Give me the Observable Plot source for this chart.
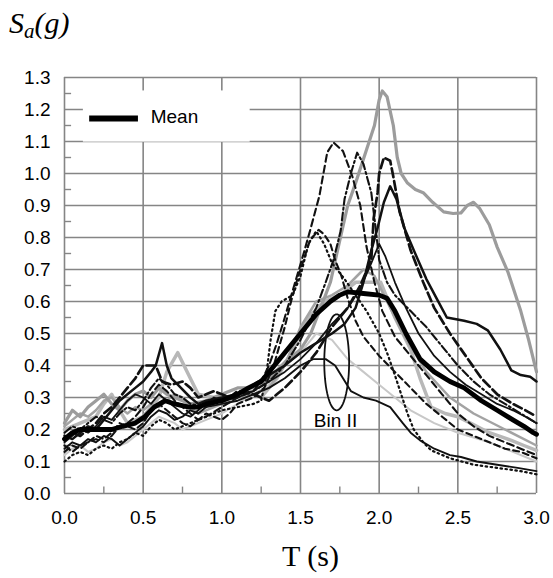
<!DOCTYPE html>
<html>
<head>
<meta charset="utf-8">
<script src="https://cdn.jsdelivr.net/npm/d3@7"></script>
<script src="https://cdn.jsdelivr.net/npm/@observablehq/plot@0.6"></script>
<style>
  html, body { margin: 0; padding: 0; background: #fff; }
  #wrap { position: relative; width: 553px; height: 578px; }
  #ylab { position: absolute; left: 9px; top: 8px; font: italic 30px "Liberation Serif", "Times New Roman", serif; line-height: 30px; white-space: nowrap; }
  #ylab sub { font-size: 21px; vertical-align: -5px; line-height: 0; }
  #xlab { position: absolute; left: 282px; top: 541px; font: 30px "Liberation Serif", "Times New Roman", serif; line-height: 30px; white-space: nowrap; }
  #chart { position: absolute; left: 0; top: 0; }
</style>
</head>
<body>
<div id="wrap">
  <div id="chart"></div>
  <div id="ylab">S<sub>a</sub>(g)</div>
  <div id="xlab">T (s)</div>
</div>
<script>
// ---- tick values ----
const xTicks = [0, 0.5, 1.0, 1.5, 2.0, 2.5, 3.0];
const yTicks = [0, 0.1, 0.2, 0.3, 0.4, 0.5, 0.6, 0.7, 0.8, 0.9, 1.0, 1.1, 1.2, 1.3];
const xMinorTicks = [0.25, 0.75, 1.25, 1.75, 2.25, 2.75];
const yMinorTicks = [0.05, 0.15, 0.25, 0.35, 0.45, 0.55, 0.65, 0.75, 0.85, 0.95, 1.05, 1.15, 1.25];

// ---- record spectra [T (s), Sa (g)] ----
const recA = [[0,0.22],[0.05,0.26],[0.1,0.24],[0.15,0.27],[0.2,0.29],[0.25,0.31],[0.3,0.28],[0.35,0.26],[0.4,0.29],[0.45,0.31],[0.5,0.32],[0.55,0.30],[0.6,0.33],[0.65,0.31],[0.7,0.30],[0.75,0.29],[0.8,0.28],[0.9,0.29],[1.0,0.31],[1.1,0.33],[1.2,0.33],[1.3,0.36],[1.4,0.41],[1.5,0.45],[1.565,0.50],[1.62,0.57],[1.69,0.66],[1.74,0.77],[1.8,0.90],[1.85,0.97],[1.92,1.075],[1.97,1.15],[2.0,1.23],[2.02,1.258],[2.05,1.24],[2.09,1.15],[2.115,1.05],[2.14,1.0],[2.18,0.97],[2.23,0.95],[2.28,0.94],[2.34,0.91],[2.41,0.88],[2.47,0.875],[2.52,0.877],[2.56,0.90],[2.6,0.91],[2.64,0.89],[2.7,0.84],[2.75,0.77],[2.82,0.69],[2.9,0.57],[2.95,0.48],[3.0,0.38]];
const recB = [[0,0.15],[0.05,0.13],[0.1,0.15],[0.15,0.16],[0.2,0.17],[0.25,0.16],[0.3,0.18],[0.35,0.21],[0.4,0.22],[0.45,0.24],[0.5,0.27],[0.55,0.31],[0.6,0.34],[0.65,0.32],[0.7,0.29],[0.75,0.27],[0.8,0.25],[0.85,0.23],[0.9,0.24],[1.0,0.27],[1.1,0.30],[1.2,0.32],[1.25,0.35],[1.3,0.40],[1.35,0.47],[1.4,0.55],[1.46,0.65],[1.52,0.75],[1.56,0.82],[1.62,0.93],[1.67,1.066],[1.71,1.097],[1.77,1.07],[1.83,0.99],[1.88,0.90],[1.92,0.77],[1.97,0.66],[2.02,0.57],[2.1,0.49],[2.2,0.43],[2.3,0.37],[2.4,0.31],[2.5,0.25],[2.6,0.21],[2.7,0.18],[2.8,0.16],[2.9,0.14],[3.0,0.12]];
const recC = [[0,0.19],[0.05,0.21],[0.1,0.20],[0.15,0.22],[0.2,0.24],[0.25,0.23],[0.3,0.22],[0.35,0.25],[0.4,0.27],[0.45,0.26],[0.5,0.29],[0.55,0.33],[0.6,0.36],[0.65,0.34],[0.7,0.31],[0.75,0.30],[0.8,0.28],[0.9,0.27],[1.0,0.29],[1.1,0.31],[1.2,0.32],[1.3,0.35],[1.4,0.40],[1.5,0.48],[1.6,0.58],[1.66,0.66],[1.71,0.73],[1.755,0.82],[1.78,0.92],[1.82,1.00],[1.86,1.065],[1.9,1.03],[1.95,0.94],[1.98,0.82],[2.0,0.73],[2.05,0.66],[2.1,0.62],[2.2,0.57],[2.3,0.52],[2.4,0.46],[2.5,0.40],[2.6,0.35],[2.7,0.31],[2.8,0.28],[2.9,0.25],[3.0,0.22]];
const recD = [[0,0.17],[0.05,0.19],[0.1,0.18],[0.15,0.20],[0.2,0.22],[0.25,0.25],[0.3,0.27],[0.35,0.30],[0.4,0.33],[0.45,0.36],[0.5,0.40],[0.55,0.40],[0.58,0.40],[0.62,0.35],[0.68,0.34],[0.75,0.35],[0.8,0.33],[0.85,0.30],[0.9,0.31],[0.95,0.32],[1.0,0.31],[1.05,0.30],[1.1,0.32],[1.2,0.31],[1.3,0.29],[1.35,0.31],[1.4,0.33],[1.5,0.38],[1.6,0.44],[1.7,0.52],[1.8,0.58],[1.88,0.65],[1.95,0.73],[1.965,0.86],[1.99,0.94],[2.0,1.0],[2.03,1.05],[2.07,1.04],[2.09,0.99],[2.13,0.88],[2.2,0.76],[2.28,0.66],[2.35,0.58],[2.45,0.50],[2.55,0.43],[2.65,0.36],[2.75,0.31],[2.85,0.28],[2.93,0.26],[3.0,0.24]];
const recE = [[0,0.18],[0.05,0.17],[0.1,0.19],[0.15,0.21],[0.2,0.20],[0.25,0.23],[0.3,0.26],[0.35,0.29],[0.4,0.31],[0.45,0.33],[0.5,0.35],[0.55,0.38],[0.58,0.40],[0.62,0.47],[0.65,0.40],[0.68,0.36],[0.72,0.34],[0.8,0.30],[0.85,0.28],[0.9,0.29],[1.0,0.30],[1.1,0.31],[1.2,0.34],[1.3,0.37],[1.4,0.40],[1.5,0.44],[1.6,0.47],[1.7,0.50],[1.78,0.53],[1.85,0.58],[1.9,0.66],[1.95,0.76],[1.99,0.83],[2.03,0.91],[2.07,0.96],[2.11,0.92],[2.16,0.83],[2.22,0.76],[2.3,0.67],[2.37,0.605],[2.43,0.55],[2.54,0.54],[2.62,0.53],[2.69,0.51],[2.77,0.45],[2.84,0.385],[2.9,0.37],[2.96,0.365],[3.0,0.35]];
const recF = [[0,0.13],[0.05,0.15],[0.1,0.14],[0.15,0.16],[0.2,0.18],[0.25,0.17],[0.3,0.19],[0.35,0.22],[0.4,0.21],[0.45,0.20],[0.5,0.22],[0.55,0.26],[0.6,0.28],[0.65,0.26],[0.7,0.24],[0.75,0.22],[0.8,0.21],[0.85,0.23],[0.9,0.25],[0.95,0.24],[1.0,0.23],[1.05,0.25],[1.1,0.28],[1.2,0.30],[1.27,0.33],[1.33,0.40],[1.4,0.52],[1.44,0.60],[1.48,0.67],[1.52,0.73],[1.56,0.79],[1.615,0.824],[1.65,0.81],[1.69,0.78],[1.72,0.73],[1.76,0.68],[1.8,0.61],[1.85,0.54],[1.9,0.49],[2.0,0.43],[2.1,0.38],[2.2,0.33],[2.3,0.28],[2.4,0.24],[2.5,0.20],[2.6,0.18],[2.7,0.16],[2.8,0.14],[2.9,0.13],[3.0,0.11]];
const recG = [[0,0.10],[0.05,0.12],[0.1,0.13],[0.15,0.12],[0.2,0.14],[0.25,0.15],[0.3,0.14],[0.35,0.16],[0.4,0.17],[0.45,0.19],[0.5,0.18],[0.55,0.21],[0.6,0.23],[0.65,0.22],[0.7,0.20],[0.75,0.21],[0.8,0.22],[0.9,0.24],[1.0,0.26],[1.1,0.27],[1.2,0.28],[1.25,0.29],[1.28,0.36],[1.31,0.48],[1.34,0.57],[1.38,0.60],[1.45,0.62],[1.5,0.68],[1.55,0.78],[1.6,0.82],[1.65,0.78],[1.7,0.72],[1.78,0.67],[1.85,0.62],[1.92,0.57],[2.0,0.50],[2.05,0.44],[2.1,0.37],[2.14,0.31],[2.18,0.25],[2.22,0.20],[2.28,0.16],[2.33,0.135],[2.45,0.11],[2.6,0.09],[2.75,0.08],[2.9,0.07],[3.0,0.06]];
const recH = [[0,0.14],[0.05,0.16],[0.1,0.15],[0.15,0.17],[0.2,0.16],[0.25,0.18],[0.3,0.17],[0.35,0.15],[0.4,0.17],[0.45,0.19],[0.5,0.21],[0.55,0.24],[0.6,0.26],[0.65,0.25],[0.7,0.23],[0.75,0.24],[0.8,0.26],[0.85,0.25],[0.9,0.27],[1.0,0.28],[1.1,0.29],[1.2,0.31],[1.3,0.33],[1.4,0.36],[1.5,0.40],[1.58,0.42],[1.66,0.42],[1.72,0.40],[1.77,0.36],[1.82,0.32],[1.9,0.30],[1.98,0.29],[2.07,0.27],[2.15,0.22],[2.2,0.19],[2.26,0.166],[2.35,0.14],[2.45,0.12],[2.52,0.114],[2.62,0.10],[2.75,0.09],[2.88,0.08],[3.0,0.07]];
const recI = [[0,0.20],[0.05,0.21],[0.1,0.22],[0.15,0.23],[0.2,0.24],[0.25,0.28],[0.3,0.31],[0.35,0.26],[0.4,0.22],[0.45,0.23],[0.5,0.24],[0.55,0.27],[0.6,0.30],[0.65,0.38],[0.72,0.44],[0.78,0.38],[0.85,0.31],[0.95,0.30],[1.05,0.30],[1.15,0.32],[1.25,0.30],[1.35,0.36],[1.45,0.45],[1.55,0.55],[1.65,0.60],[1.75,0.62],[1.85,0.66],[1.95,0.66],[2.01,0.66],[2.1,0.55],[2.2,0.45],[2.26,0.36],[2.33,0.27],[2.42,0.25],[2.5,0.24],[2.58,0.22],[2.7,0.19],[2.84,0.166],[2.92,0.15],[3.0,0.135]];
const recJ = [[0,0.12],[0.05,0.14],[0.1,0.15],[0.15,0.13],[0.2,0.14],[0.25,0.16],[0.3,0.17],[0.35,0.15],[0.4,0.16],[0.45,0.18],[0.5,0.20],[0.55,0.22],[0.6,0.24],[0.65,0.23],[0.7,0.22],[0.75,0.20],[0.8,0.21],[0.9,0.23],[1.0,0.25],[1.1,0.28],[1.2,0.31],[1.3,0.34],[1.4,0.40],[1.5,0.44],[1.6,0.50],[1.7,0.48],[1.8,0.42],[1.9,0.38],[2.0,0.34],[2.1,0.30],[2.2,0.26],[2.35,0.22],[2.5,0.19],[2.7,0.16],[2.85,0.13],[3.0,0.10]];
const recK = [[0,0.16],[0.05,0.18],[0.1,0.20],[0.15,0.19],[0.2,0.21],[0.25,0.24],[0.3,0.23],[0.35,0.26],[0.4,0.29],[0.45,0.31],[0.5,0.30],[0.55,0.28],[0.6,0.31],[0.65,0.29],[0.7,0.27],[0.75,0.25],[0.8,0.24],[0.85,0.26],[0.9,0.28],[0.95,0.30],[1.0,0.29],[1.1,0.30],[1.2,0.32],[1.3,0.35],[1.4,0.38],[1.5,0.42],[1.6,0.47],[1.7,0.53],[1.8,0.58],[1.88,0.64],[1.95,0.72],[2.0,0.78],[2.04,0.74],[2.1,0.66],[2.17,0.58],[2.25,0.50],[2.35,0.43],[2.45,0.38],[2.55,0.34],[2.65,0.31],[2.75,0.28],[2.85,0.26],[2.93,0.24],[3.0,0.22]];
const recL = [[0,0.21],[0.05,0.23],[0.1,0.25],[0.15,0.24],[0.2,0.26],[0.25,0.29],[0.3,0.30],[0.35,0.27],[0.4,0.25],[0.45,0.27],[0.5,0.26],[0.55,0.28],[0.6,0.27],[0.65,0.29],[0.7,0.31],[0.75,0.30],[0.8,0.27],[0.85,0.25],[0.9,0.26],[1.0,0.28],[1.1,0.30],[1.2,0.31],[1.3,0.33],[1.4,0.40],[1.5,0.52],[1.6,0.60],[1.7,0.62],[1.8,0.65],[1.9,0.70],[1.97,0.68],[2.05,0.60],[2.15,0.50],[2.3,0.38],[2.45,0.30],[2.6,0.25],[2.8,0.20],[3.0,0.15]];
const meanSpectrum = [[0,0.17],[0.05,0.19],[0.1,0.20],[0.15,0.20],[0.2,0.20],[0.25,0.20],[0.3,0.20],[0.37,0.21],[0.45,0.22],[0.51,0.24],[0.57,0.27],[0.64,0.29],[0.7,0.28],[0.79,0.27],[0.85,0.27],[0.9,0.28],[1.0,0.29],[1.1,0.31],[1.17,0.33],[1.25,0.35],[1.3,0.38],[1.4,0.44],[1.5,0.50],[1.6,0.56],[1.69,0.60],[1.75,0.62],[1.8,0.63],[1.9,0.625],[2.0,0.62],[2.05,0.61],[2.1,0.57],[2.17,0.50],[2.26,0.42],[2.35,0.38],[2.45,0.35],[2.54,0.33],[2.65,0.29],[2.75,0.26],[2.85,0.23],[2.92,0.21],[2.98,0.19],[3.0,0.185]];

// ---- annotation values ----
const legendLabel = "Mean";
const binLabel = "Bin II";
const binCenter = [1.73, 0.41];
const binRadii = [0.079, 0.15];

// ---- styles ----
const FONT = '"Liberation Sans", Arial, Helvetica, sans-serif';
const GRID = "#858585";
const styled = [
  {data: recJ, stroke: "#c8c8c8", strokeWidth: 2},
  {data: recI, stroke: "#b8b8b8", strokeWidth: 3.5},
  {data: recL, stroke: "#a3a3a3", strokeWidth: 2.5},
  {data: recA, stroke: "#9c9c9c", strokeWidth: 3.2},
  {data: recH, stroke: "#111", strokeWidth: 1.9},
  {data: recK, stroke: "#111", strokeWidth: 1.8},
  {data: recE, stroke: "#111", strokeWidth: 2.5},
  {data: recB, stroke: "#111", strokeWidth: 2.1, strokeDasharray: "7,4"},
  {data: recF, stroke: "#111", strokeWidth: 2.1, strokeDasharray: "6,4"},
  {data: recD, stroke: "#111", strokeWidth: 2.7, strokeDasharray: "9,4"},
  {data: recC, stroke: "#111", strokeWidth: 2.1, strokeDasharray: "8,3,2,3"},
  {data: recG, stroke: "#111", strokeWidth: 2.2, strokeDasharray: "1.5,3.5", strokeLinecap: "round"}
];

const ellipsePts = d3.range(0, 73).map(i => {
  const a = (i / 72) * 2 * Math.PI;
  return [binCenter[0] + binRadii[0] * Math.cos(a), binCenter[1] + binRadii[1] * Math.sin(a)];
});

const chart = Plot.plot({
  width: 553,
  height: 578,
  marginLeft: 64,
  marginRight: 17,
  marginTop: 77,
  marginBottom: 85,
  style: {fontFamily: FONT, fontSize: "19px", color: "#000", background: "transparent"},
  x: {domain: [0, 3], label: null},
  y: {domain: [0, 1.3], label: null},
  marks: [
    Plot.ruleY(yTicks, {stroke: GRID, strokeWidth: 1.6}),
    Plot.ruleX(xTicks, {stroke: GRID, strokeWidth: 1.6}),
    Plot.ruleY(yMinorTicks, {x1: 0, x2: 0.045, stroke: GRID, strokeWidth: 1.4}),
    Plot.ruleX(xMinorTicks, {y1: 0, y2: 0.02, stroke: GRID, strokeWidth: 1.4}),
    ...styled.map(s => Plot.line(s.data, {
      x: d => d[0], y: d => d[1],
      stroke: s.stroke, strokeWidth: s.strokeWidth,
      strokeDasharray: s.strokeDasharray, strokeLinecap: s.strokeLinecap,
      strokeLinejoin: "round"
    })),
    Plot.line(meanSpectrum, {x: d => d[0], y: d => d[1], stroke: "#000", strokeWidth: 4.8, strokeLinejoin: "round"}),
    Plot.line(ellipsePts, {x: d => d[0], y: d => d[1], stroke: "#111", strokeWidth: 1.8}),
    Plot.text([binLabel], {x: 1.585, y: 0.228, text: d => d, textAnchor: "start", fontSize: 19, fill: "#000"}),
    Plot.rect([0], {x1: 0.12, x2: 1.18, y1: 1.098, y2: 1.258, fill: "#fff"}),
    Plot.ruleY([1.172], {x1: 0.16, x2: 0.47, stroke: "#000", strokeWidth: 6}),
    Plot.text([legendLabel], {x: 0.548, y: 1.178, text: d => d, textAnchor: "start", fontSize: 19, fill: "#000"}),
    Plot.axisX(xTicks, {tickSize: 0, tickPadding: 17, tickFormat: d => d.toFixed(1), fontSize: 19, fill: "#000"}),
    Plot.axisY(yTicks, {tickSize: 0, tickPadding: 14, tickFormat: d => d.toFixed(1), fontSize: 19, fill: "#000"})
  ]
});
document.getElementById("chart").appendChild(chart);
</script>
</body>
</html>
